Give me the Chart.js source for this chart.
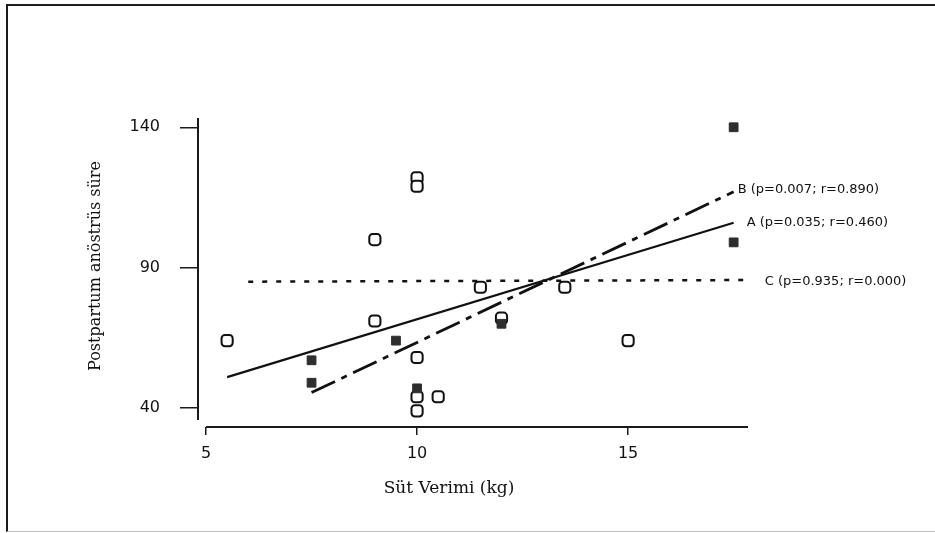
<!DOCTYPE html>
<html>
<head>
<meta charset="utf-8">
<script src="https://cdn.jsdelivr.net/npm/chart.js@4"></script>
<style>
  html, body { margin: 0; padding: 0; background: #fff; }
  #wrap { position: relative; width: 935px; height: 533px; }
  #frame {
    position: absolute; left: 6px; top: 4px; right: 0; bottom: 1px;
    border-top: 2px solid #1c1c1c; border-left: 2px solid #1c1c1c;
    border-bottom: 1px solid #bdbdbd; pointer-events: none;
  }
</style>
</head>
<body>
<div id="wrap">
  <canvas id="chart" width="935" height="533"></canvas>
  <div id="frame"></div>
</div>
<script>
// Observed points (open = one group, filled = other group)
const openX = [5.5, 9, 9, 10, 10, 10, 10, 10, 10.5, 11.5, 12, 13.5, 15];
const openY = [64, 100, 71, 122, 119, 58, 44, 39, 44, 83, 72, 83, 64];
const filledX = [7.5, 7.5, 9.5, 10, 12, 17.5, 17.5];
const filledY = [57, 49, 64, 47, 70, 140, 99];

// Regression lines (end points)
const lineAX = [5.5, 17.5];
const lineAY = [51, 106];
const lineBX = [7.5, 17.5];
const lineBY = [45.5, 117];
const lineCX = [6, 18];
const lineCY = [85, 85.6];
const lineLabels = ['A (p=0.035; r=0.460)', 'B (p=0.007; r=0.890)', 'C (p=0.935; r=0.000)'];

const xTicks = [5, 10, 15];
const yTicks = [40, 90, 140];
const xTitle = 'Süt Verimi (kg)';
const yTitle = 'Postpartum anöstrüs süre';

const toPoints = (xs, ys) => xs.map((v, i) => ({ x: v, y: ys[i] }));

const lineStyle = (xs, ys, dash, width) => ({
  type: 'line',
  data: toPoints(xs, ys),
  borderColor: '#111',
  borderWidth: width,
  borderDash: dash,
  pointRadius: 0,
  fill: false,
  tension: 0,
  order: 0
});

// axis lines, line labels and axis titles
const decorations = {
  id: 'decorations',
  afterDraw(chart) {
    const { ctx, chartArea, scales: { x, y } } = chart;
    ctx.save();
    ctx.strokeStyle = '#1a1a1a';
    ctx.lineWidth = 2;
    ctx.beginPath();
    ctx.moveTo(chartArea.left, y.getPixelForValue(35.7));
    ctx.lineTo(chartArea.left, chartArea.top);
    ctx.moveTo(x.getPixelForValue(5), chartArea.bottom);
    ctx.lineTo(chartArea.right, chartArea.bottom);
    ctx.stroke();

    ctx.fillStyle = '#111';
    ctx.font = '13px "DejaVu Sans"';
    ctx.textBaseline = 'middle';
    ctx.textAlign = 'left';
    const ends = [
      [lineAX[1], lineAY[1], 13, 0],
      [lineBX[1], lineBY[1], 4, -2],
      [lineCX[1], lineCY[1], 10, 2]
    ];
    ends.forEach(([vx, vy, dx, dy], i) => {
      ctx.fillText(lineLabels[i], x.getPixelForValue(vx) + dx, y.getPixelForValue(vy) + dy);
    });

    ctx.textAlign = 'center';
    ctx.font = '17px "DejaVu Serif"';
    ctx.fillText(xTitle, 449, 489);
    ctx.font = '16px "DejaVu Serif"';
    ctx.translate(96, 266);
    ctx.rotate(-Math.PI / 2);
    ctx.fillText(yTitle, 0, 0);
    ctx.restore();
  }
};

new Chart(document.getElementById('chart'), {
  type: 'scatter',
  data: {
    datasets: [
      lineStyle(lineAX, lineAY, [], 2.2),
      lineStyle(lineBX, lineBY, [26, 7, 6, 7], 2.8),
      lineStyle(lineCX, lineCY, [5, 9], 2.5),
      {
        data: toPoints(filledX, filledY),
        pointStyle: 'rect',
        pointRadius: 6.2,
        backgroundColor: '#2e2e2e',
        borderColor: '#2e2e2e',
        borderWidth: 1,
        order: 1
      },
      {
        data: toPoints(openX, openY),
        pointStyle: 'rectRounded',
        pointRadius: 6.5,
        backgroundColor: '#fff',
        borderColor: '#111',
        borderWidth: 2,
        order: 2
      }
    ]
  },
  options: {
    responsive: false,
    animation: false,
    layout: { padding: { left: 0, right: 187, top: 118, bottom: 0 } },
    plugins: { legend: { display: false }, tooltip: { enabled: false } },
    scales: {
      x: {
        type: 'linear',
        min: 4.81,
        max: 17.84,
        afterBuildTicks: s => { s.ticks = xTicks.map(v => ({ value: v })); },
        afterFit: s => { s.height = 106; },
        border: { display: false },
        grid: { drawOnChartArea: false, drawTicks: true, tickLength: 8, color: '#1a1a1a', lineWidth: 1.5 },
        ticks: { color: '#111', font: { family: 'DejaVu Sans', size: 16 }, padding: 9, maxRotation: 0 }
      },
      y: {
        type: 'linear',
        min: 33.24,
        max: 143.3,
        afterBuildTicks: s => { s.ticks = yTicks.map(v => ({ value: v })); },
        afterFit: s => { s.width = 198; },
        border: { display: false },
        grid: { drawOnChartArea: false, drawTicks: true, tickLength: 18, color: '#1a1a1a', lineWidth: 1.5 },
        ticks: { color: '#111', font: { family: 'DejaVu Sans', size: 16 }, padding: 20 }
      }
    }
  },
  plugins: [decorations]
});
</script>
</body>
</html>
